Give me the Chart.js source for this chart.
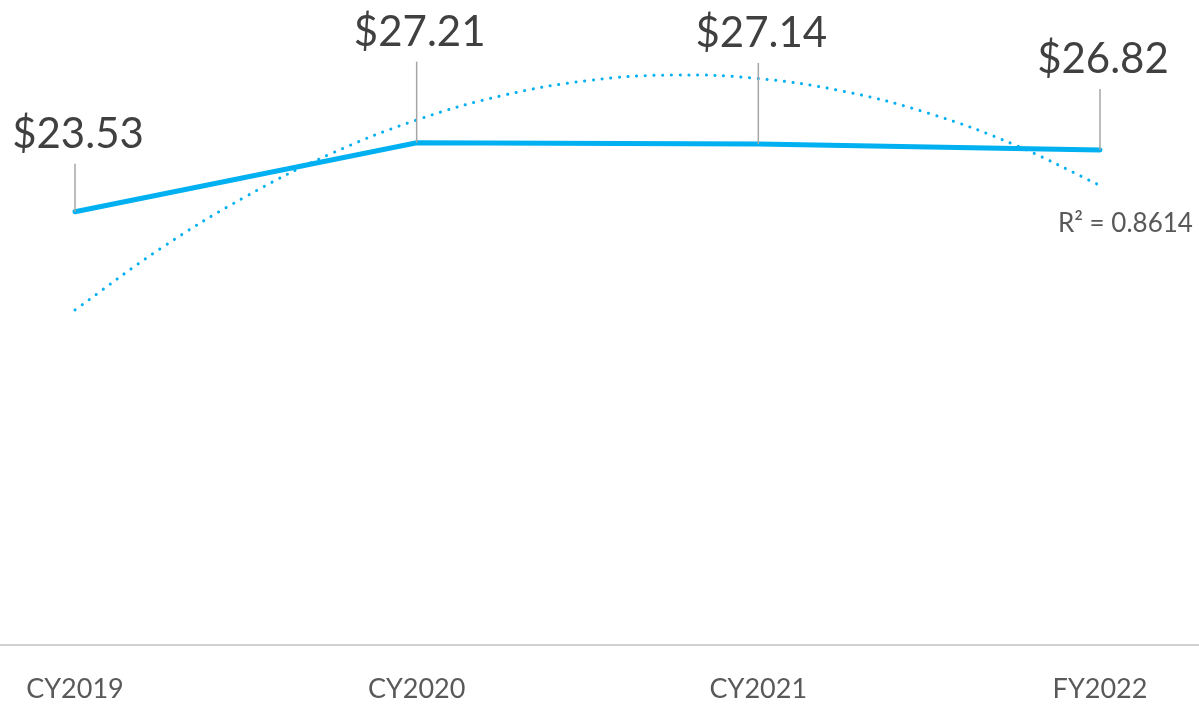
<!DOCTYPE html>
<html>
<head>
<meta charset="utf-8">
<script src="https://cdn.jsdelivr.net/npm/chart.js@4/dist/chart.umd.min.js"></script>
<style>
    html, body { margin: 0; padding: 0; background: #fff; }
    #wrap { width: 1199px; height: 705px; position: relative; }
</style>
</head>
<body>
<div id="wrap"><canvas id="costChart"></canvas></div>
<script>
// categories and values
const periods = ['CY2019', 'CY2020', 'CY2021', 'FY2022'];
const periodPos = [1, 2, 3, 4];
const costValues = [23.53, 27.21, 27.14, 26.82];

// polynomial trendline as drawn in the picture, sampled every quarter step
const trendPos = [1, 1.25, 1.5, 1.75, 2, 2.25, 2.5, 2.75, 3, 3.25, 3.5, 3.75, 4];
const trendValues = [18.29, 21.56, 24.34, 26.63, 28.42, 29.72, 30.52, 30.82, 30.63, 29.95, 28.77, 27.10, 24.93];
const rSquared = 'R\u00B2 = 0.8614';

const lineBlue = '#00B0F0';
const fontFace = 'Lato, "Open Sans", sans-serif';

// data labels with gray leader lines above each point
const leaderLabels = {
    id: 'leaderLabels',
    afterDatasetsDraw(chart, args, opts) {
        const ctx = chart.ctx;
        const xs = chart.scales.x;
        const ys = chart.scales.y;
        ctx.save();
        costValues.forEach((v, i) => {
            const px = xs.getPixelForValue(periodPos[i]);
            const py = ys.getPixelForValue(v);
            const top = py - opts.lift[i];
            ctx.strokeStyle = '#A6A6A6';
            ctx.lineWidth = 1.5;
            ctx.beginPath();
            ctx.moveTo(px, py);
            ctx.lineTo(px, top);
            ctx.stroke();
            ctx.fillStyle = '#404040';
            ctx.font = '42px ' + fontFace;
            ctx.textAlign = 'center';
            ctx.textBaseline = 'alphabetic';
            ctx.fillText('$' + v.toFixed(2), px + 3, top - 16);
        });
        // trendline R² note
        const lastX = xs.getPixelForValue(trendPos[trendPos.length - 1]);
        const lastY = ys.getPixelForValue(trendValues[trendValues.length - 1]);
        ctx.fillStyle = '#595959';
        ctx.font = '26px ' + fontFace;
        ctx.textAlign = 'left';
        ctx.fillText(rSquared, lastX - 42, lastY + 47);
        ctx.restore();
    }
};

const costCtx = document.getElementById('costChart').getContext('2d');

const costChart = new Chart(costCtx, {
    type: 'line',
    data: {
        datasets: [
            {
                label: 'Cost',
                data: periodPos.map((p, i) => ({ x: p, y: costValues[i] })),
                borderColor: lineBlue,
                borderWidth: 5,
                borderCapStyle: 'round',
                pointRadius: 0,
                tension: 0
            },
            {
                label: 'Poly. (Cost)',
                data: trendPos.map((p, i) => ({ x: p, y: trendValues[i] })),
                borderColor: lineBlue,
                borderWidth: 3,
                borderDash: [0.1, 8.6],
                borderCapStyle: 'round',
                pointRadius: 0,
                tension: 0.4
            }
        ]
    },
    options: {
        responsive: true,
        maintainAspectRatio: false,
        animation: false,
        layout: { padding: 0 },
        plugins: {
            legend: { display: false },
            tooltip: { enabled: false },
            leaderLabels: { lift: [48, 81, 81, 61] }
        },
        scales: {
            x: {
                type: 'linear',
                min: 0.7805,
                max: 4.2898,
                afterBuildTicks: function(axis) {
                    axis.ticks = periodPos.map(v => ({ value: v }));
                },
                afterFit: function(axis) {
                    axis.height = 60;
                    axis.paddingLeft = 0;
                    axis.paddingRight = 0;
                },
                grid: { display: false, drawTicks: false },
                border: { display: true, color: '#D0D0D0', width: 2 },
                ticks: {
                    padding: 28,
                    color: '#595959',
                    font: { family: fontFace, size: 27 },
                    maxRotation: 0,
                    callback: function(value) {
                        return periods[periodPos.indexOf(value)];
                    }
                }
            },
            y: {
                display: false,
                min: 0.42,
                max: 34.82
            }
        }
    },
    plugins: [leaderLabels]
});
</script>
</body>
</html>
